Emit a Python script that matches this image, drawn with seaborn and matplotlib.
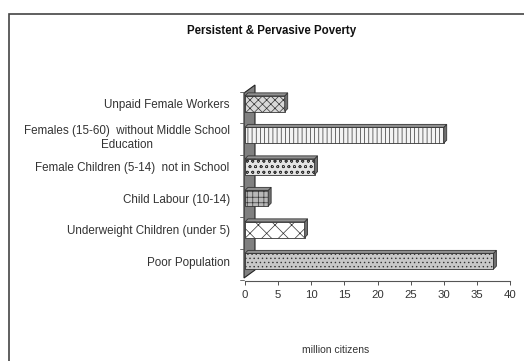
import matplotlib
matplotlib.use("Agg")
import matplotlib.pyplot as plt
import seaborn as sns
import pandas as pd
from matplotlib.patches import Polygon, Rectangle

categories = [
    "Unpaid Female Workers",
    "Females (15-60)  without Middle School\nEducation",
    "Female Children (5-14)  not in School",
    "Child Labour (10-14)",
    "Underweight Children (under 5)",
    "Poor Population",
]
values = [6, 30, 10.5, 3.5, 9, 37.5]
x_ticks = [0, 5, 10, 15, 20, 25, 30, 35, 40]

hatches = ["xxxx", "||||", "ooo", "+++", "xx", "...."]
faces = ["#d8d8d8", "#f4f4f4", "#e4e4e4", "#b8b8b8", "#ffffff", "#c8c8c8"]

sns.set_theme(style="white")
plt.rcParams["font.family"] = ["Liberation Sans", "DejaVu Sans"]
plt.rcParams["hatch.linewidth"] = 0.5
plt.rcParams["hatch.color"] = "#555555"

df = pd.DataFrame({"category": categories, "value": values})

fig = plt.figure(figsize=(5.24, 3.61), dpi=100)
fig.patch.set_facecolor("white")
ax = fig.add_axes([245 / 524, 1 - 277 / 361, (510 - 245) / 524, (277 - 88) / 361])
ax.patch.set_alpha(0)

sns.barplot(data=df, y="category", x="value", orient="h", ax=ax,
            color="#cccccc", width=0.5, saturation=1)

off_px = (3, 3)
inv = ax.transData.inverted()
for p, h, fc in list(zip(ax.patches, hatches, faces)):
    p.set_hatch(h)
    p.set_facecolor(fc)
    p.set_edgecolor("#333333")
    p.set_linewidth(0.6)
    p.set_zorder(2)
    x0, y0 = p.get_x(), p.get_y()
    w, ht = p.get_width(), p.get_height()
    a, b = ax.transData.transform([(x0 + w, y0), (x0 + w, y0 + ht)])
    side = Polygon(inv.transform([a, b, b + off_px, a + off_px]), closed=True,
                   facecolor="#707070", edgecolor="#333333", linewidth=0.6, zorder=3)
    ax.add_patch(side)
    ta, tb = ax.transData.transform([(x0, y0), (x0 + w, y0)])
    top = Polygon(inv.transform([ta, tb, tb + off_px, ta + off_px]), closed=True,
                  facecolor="#909090", edgecolor="#333333", linewidth=0.6, zorder=3)
    ax.add_patch(top)

ax.set_xlim(0, 40)
ax.set_xticks(x_ticks)
ax.set_xticklabels([str(t) for t in x_ticks])
ax.set_ylabel("")
ax.set_xlabel("")
ax.tick_params(axis="y", labelsize=8.4, labelcolor="#333333", length=0, pad=11)
ax.tick_params(axis="x", labelsize=8.2, labelcolor="#333333", length=3, width=0.6,
               color="#333333", pad=3, bottom=True)
for lab in ax.get_yticklabels():
    lab.set_multialignment("center")

for s in ["top", "right", "left"]:
    ax.spines[s].set_visible(False)
ax.spines["bottom"].set_color("#555555")
ax.spines["bottom"].set_linewidth(0.8)
ax.spines["bottom"].set_position(("outward", 3))

# left wall (decorative 3D wall), behind the bars
wall = Polygon([(244 / 524, 1 - 278 / 361), (244 / 524, 1 - 93 / 361),
                (255 / 524, 1 - 85 / 361), (255 / 524, 1 - 270 / 361)],
               closed=True, transform=fig.transFigure, facecolor="#808080",
               edgecolor="#222222", linewidth=0.8, zorder=1, clip_on=False)
ax.add_patch(wall)
for i in range(7):
    yy = 1 - (92 + i * 31.3) / 361
    fig.add_artist(plt.Line2D([240 / 524, 244 / 524], [yy, yy], color="#555555",
                              linewidth=0.6, transform=fig.transFigure))

fig.text(272 / 524, 1 - 31 / 361, "Persistent & Pervasive Poverty", ha="center",
         va="center", fontsize=8.3, fontweight="bold", color="#111111")
fig.text(336 / 524, 1 - 350 / 361, "million citizens", ha="center", va="center",
         fontsize=7.5, color="#333333")

border = Rectangle((8.5 / 524, -0.02), 1.1, 1 - 13.5 / 361 + 0.02,
                   transform=fig.transFigure, fill=False, edgecolor="#444444",
                   linewidth=1.2)
fig.patches.append(border)

fig.savefig("out.png", dpi=100)
